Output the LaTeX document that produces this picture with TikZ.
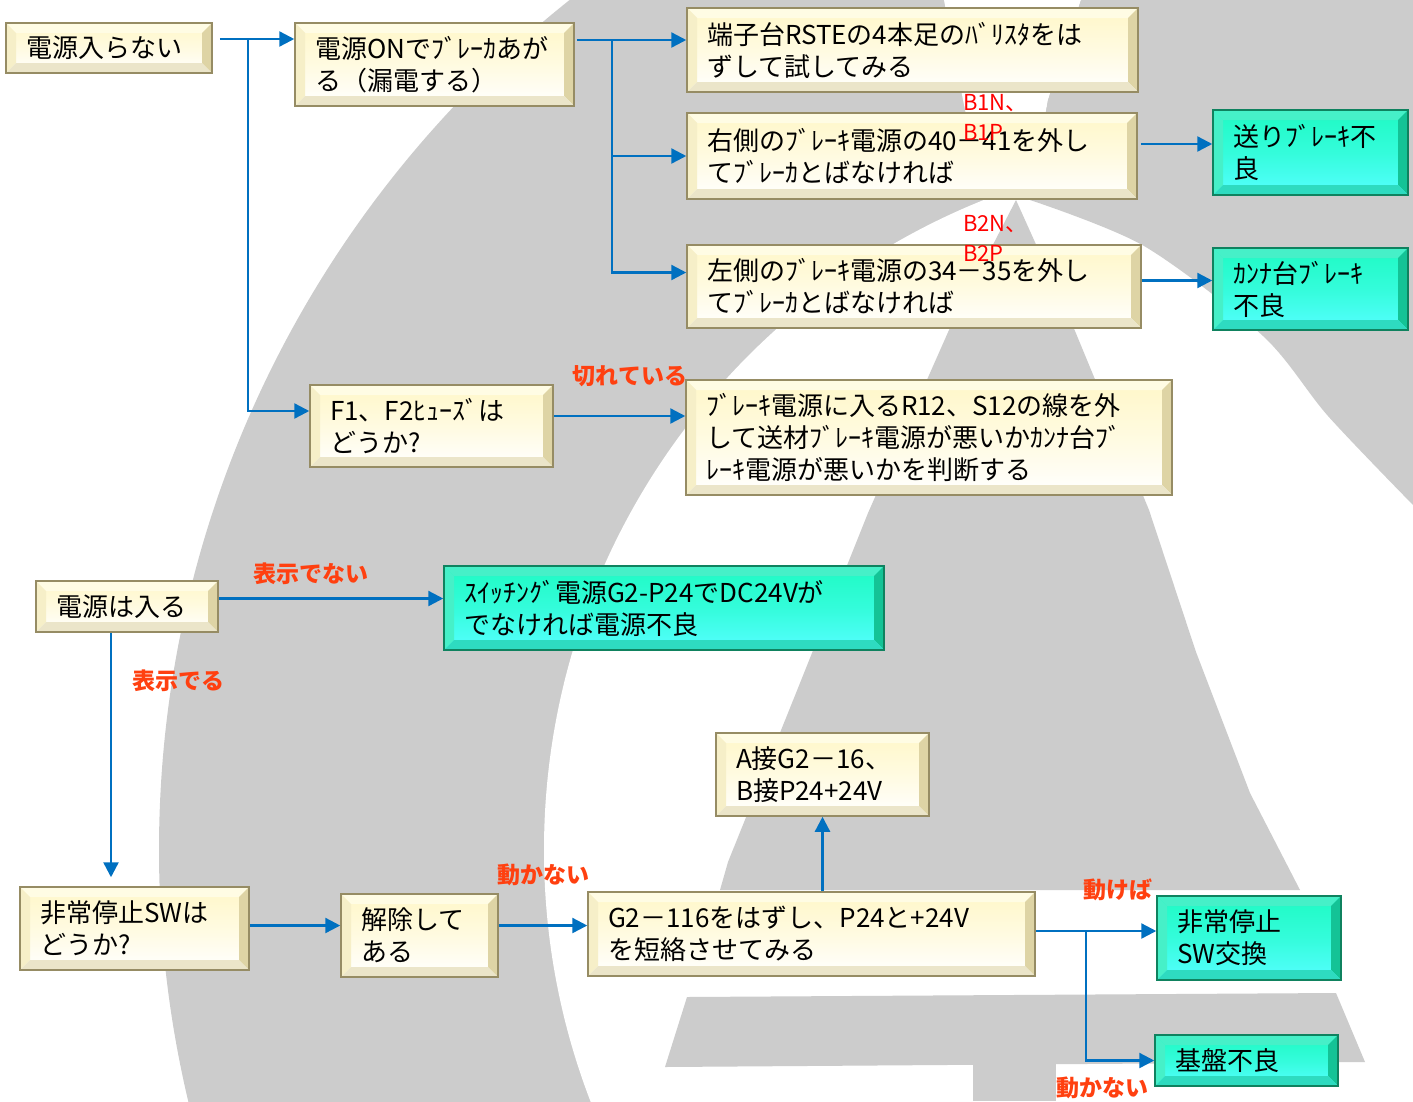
\documentclass[tikz,border=0pt]{standalone}
\usepackage{fontspec}
\setmainfont{Noto Sans CJK JP}
\usepackage{tikz}
\usetikzlibrary{positioning}
\usetikzlibrary{arrows.meta}
\usetikzlibrary{calc}
\definecolor{logogray}{RGB}{204,204,204}
\definecolor{flowblue}{RGB}{0,112,192}
\definecolor{labelred}{RGB}{255,64,16}
\definecolor{creamtop}{RGB}{255,247,200}
\definecolor{creamlight}{RGB}{255,252,228}
\definecolor{creamside}{RGB}{246,239,200}
\definecolor{creamdark}{RGB}{222,212,165}
\definecolor{creamedge}{RGB}{150,140,100}
\definecolor{greentop}{RGB}{30,250,195}
\definecolor{greenbottom}{RGB}{85,255,255}
\definecolor{greenlight}{RGB}{70,240,200}
\definecolor{greendark}{RGB}{20,195,150}
\definecolor{greenedge}{RGB}{15,130,95}
\tikzstyle{flow} = [draw=flowblue, line width=2.4pt, -{Triangle[length=15pt, width=15pt]}]

\begin{document}
\begin{tikzpicture}[x=1pt, y=-1pt,
				bevel/.style n args={4}{path picture={
					\coordinate (pnw) at (path picture bounding box.north west);
					\coordinate (pne) at (path picture bounding box.north east);
					\coordinate (psw) at (path picture bounding box.south west);
					\coordinate (pse) at (path picture bounding box.south east);
					\fill[#1] (pnw) -- (pne) -- ([xshift=-10pt,yshift=-10pt]pne) -- ([xshift=10pt,yshift=-10pt]pnw) -- cycle;
					\fill[#2] (pnw) -- (psw) -- ([xshift=10pt,yshift=10pt]psw) -- ([xshift=10pt,yshift=-10pt]pnw) -- cycle;
					\fill[#3] (pne) -- (pse) -- ([xshift=-10pt,yshift=10pt]pse) -- ([xshift=-10pt,yshift=-10pt]pne) -- cycle;
					\fill[#4] (psw) -- (pse) -- ([xshift=-10pt,yshift=10pt]pse) -- ([xshift=10pt,yshift=10pt]psw) -- cycle;}},
				box/.style={rectangle, draw=creamedge, line width=1.5pt, top color=creamtop, bottom color=white,
					middle color=creamtop!55!white, bevel={creamlight}{creamside}{creamdark}{creamdark!60!white},
					inner xsep=20pt, inner ysep=4pt, align=left, font=\fontsize{26}{32}\selectfont},
				result/.style={box, draw=greenedge, top color=greentop, bottom color=greenbottom,
					middle color=greentop!60!greenbottom, bevel={greenlight}{greenlight}{greendark}{greendark!60!greenbottom}},
				lbl/.style={text=labelred, inner sep=0pt, font=\fontsize{23}{26}\selectfont\bfseries},
				note/.style={text=red, inner sep=0pt, align=left, anchor=north west, font=\fontsize{22}{30}\selectfont}]
				\useasboundingbox (0,0) rectangle (1413,1101);
				% background logo
				\begin{scope}
					\clip (0,0) rectangle (1413,1101);
					\fill[logogray] (1244,850) circle[radius=1085pt];
					\fill[white] (1244,850) circle[radius=700pt];
					\fill[white] (944,0) -- (1081,0) -- (1048,100) -- (1030,200) -- (1020,260) -- (960,260) -- (984,200) -- (963,100) -- cycle;
					\fill[logogray] plot[smooth] coordinates {(1030,200) (1144,246) (1263,336) (1328,416) (1413,505)} -- (1413,0) -- (1081,0) -- (1048,100) -- cycle;
					\fill[logogray] (1016,200) -- (1075,331) -- (1149,510) -- (1196,652) -- (1250,793) -- (1300,890) -- (720,890) -- (728,862) -- (796,693) -- (868,513) -- (949,330) -- cycle;
					\fill[logogray] (687,997) -- (1336,993) -- (1365,1062) -- (665,1067) -- cycle;
					\fill[logogray] (973,1060) rectangle (1056,1101);
				\end{scope}

				\node[box, text width=166pt, minimum height=50pt](node1) at (109,48) {電源入らない};
				\node[box, text width=239pt, minimum height=83pt](node11) at (434.5,64.5) {電源ONでﾌﾞﾚｰｶあが\\る（漏電する）};
				\node[box, text width=411pt, minimum height=84pt](node111) at (912.5,50) {端子台RSTEの4本足のﾊﾞﾘｽﾀをは\\ずして試してみる};
				\node[box, text width=410pt, minimum height=86pt](node112) at (912,156) {右側のﾌﾞﾚｰｷ電源の40－41を外し\\てﾌﾞﾚｰｶとばなければ};
				\node[result, text width=155pt, minimum height=85pt](node1121) at (1310.5,152.5) {送りﾌﾞﾚｰｷ不\\良};
				\node[box, text width=414pt, minimum height=83pt](node113) at (914,286.5) {左側のﾌﾞﾚｰｷ電源の34－35を外し\\てﾌﾞﾚｰｶとばなければ};
				\node[result, text width=155pt, minimum height=82pt](node1131) at (1310.5,289) {ｶﾝﾅ台ﾌﾞﾚｰｷ\\不良};
				\node[box, text width=203pt, minimum height=82pt](node12) at (431.5,426) {F1、F2ﾋｭｰｽﾞは\\どうか?};
				\node[box, text width=446pt, minimum height=115pt](node121) at (929,437.5) {ﾌﾞﾚｰｷ電源に入るR12、S12の線を外\\して送材ﾌﾞﾚｰｷ電源が悪いかｶﾝﾅ台ﾌﾞ\\ﾚｰｷ電源が悪いかを判断する};

				\node[box, text width=142pt, minimum height=51pt](node2) at (127,606.5) {電源は入る};
				\node[result, text width=400pt, minimum height=84pt](node21) at (664,608) {ｽｲｯﾁﾝｸﾞ電源G2-P24でDC24Vが\\でなければ電源不良};
				\node[box, text width=189pt, minimum height=83pt](node22) at (134.5,928.5) {非常停止SWは\\どうか?};
				\node[box, text width=117pt, minimum height=83pt](node221) at (419.5,935.5) {解除して\\ある};
				\node[box, text width=407pt, minimum height=84pt](node2211) at (811.5,934) {G2－116をはずし、P24と+24V\\を短絡させてみる};
				\node[box, text width=173pt, minimum height=83pt](node22111) at (822.5,774.5) {A接G2－16、\\B接P24+24V};
				\node[result, text width=144pt, minimum height=84pt](node22112) at (1249,938) {非常停止\\SW交換};
				\node[result, text width=143pt, minimum height=51pt](node22113) at (1246.5,1060.5) {基盤不良};

				\coordinate (fork1) at (248,39);
				\coordinate (fork2) at (612,40);
				\coordinate (fork3) at (1086,931);
				\coordinate (out112) at ([yshift=12pt]node112.east);
				\coordinate (out113) at ([yshift=6pt]node113.east);
				\coordinate (out12) at ([yshift=10pt]node12.east);
				\coordinate (out2) at ([yshift=8pt]node2.east);
				\coordinate (down2) at ([xshift=-16pt]node2.south);
				\coordinate (out22) at ([yshift=3pt]node22.east);
				\coordinate (out221) at ([yshift=10pt]node221.east);
				\coordinate (out2211) at ([yshift=3pt]node2211.east);

				\draw[flow, shorten <=7pt] (node1.east |- fork1) -- (node11.west |- fork1);
				\draw[flow] (fork1) |- ([yshift=15pt]node12.west);
				\draw[flow, shorten <=2pt] (node11.east |- fork2) -- (node111.west |- fork2);
				\draw[flow] (fork2) |- (node112.west);
				\draw[flow] (fork2) |- ([yshift=14pt]node113.west);
				\draw[flow, shorten <=3pt] (out112) -- (out112 -| node1121.west);
				\draw[flow] (out113) -- (out113 -| node1131.west);
				\draw[flow] (out12) -- node[lbl, pos=0.58, above=28pt](lbl12) {切れている} (out12 -| node121.west);
				\draw[flow] (out2) -- node[lbl, pos=0.41, above=13pt](lbl21) {表示でない} (out2 -| node21.west);
				\draw[flow, shorten >=9pt] (down2) -- node[lbl, pos=0.19, right=20pt](lbl22) {表示でる} (down2 |- node22.north);
				\draw[flow] (out22) -- (out22 -| node221.west);
				\draw[flow] (out221) -- node[lbl, midway, above=38pt](lbl2211) {動かない} (out221 -| node2211.west);
				\draw[flow] (node2211.north -| node22111.south) -- (node22111.south);
				\draw[flow] (out2211) -- node[lbl, pos=0.68, above=29pt](lbl22112) {動けば} (out2211 -| node22112.west);
				\draw[flow] (fork3) |- node[lbl, pos=0.62, below=15pt](lbl22113) {動かない} (node22113.west);

				\node[note](noteb1) at (963,94) {B1N、\\B1P};
				\node[note](noteb2) at (963,215) {B2N、\\B2P};
			\end{tikzpicture}
\end{document}
